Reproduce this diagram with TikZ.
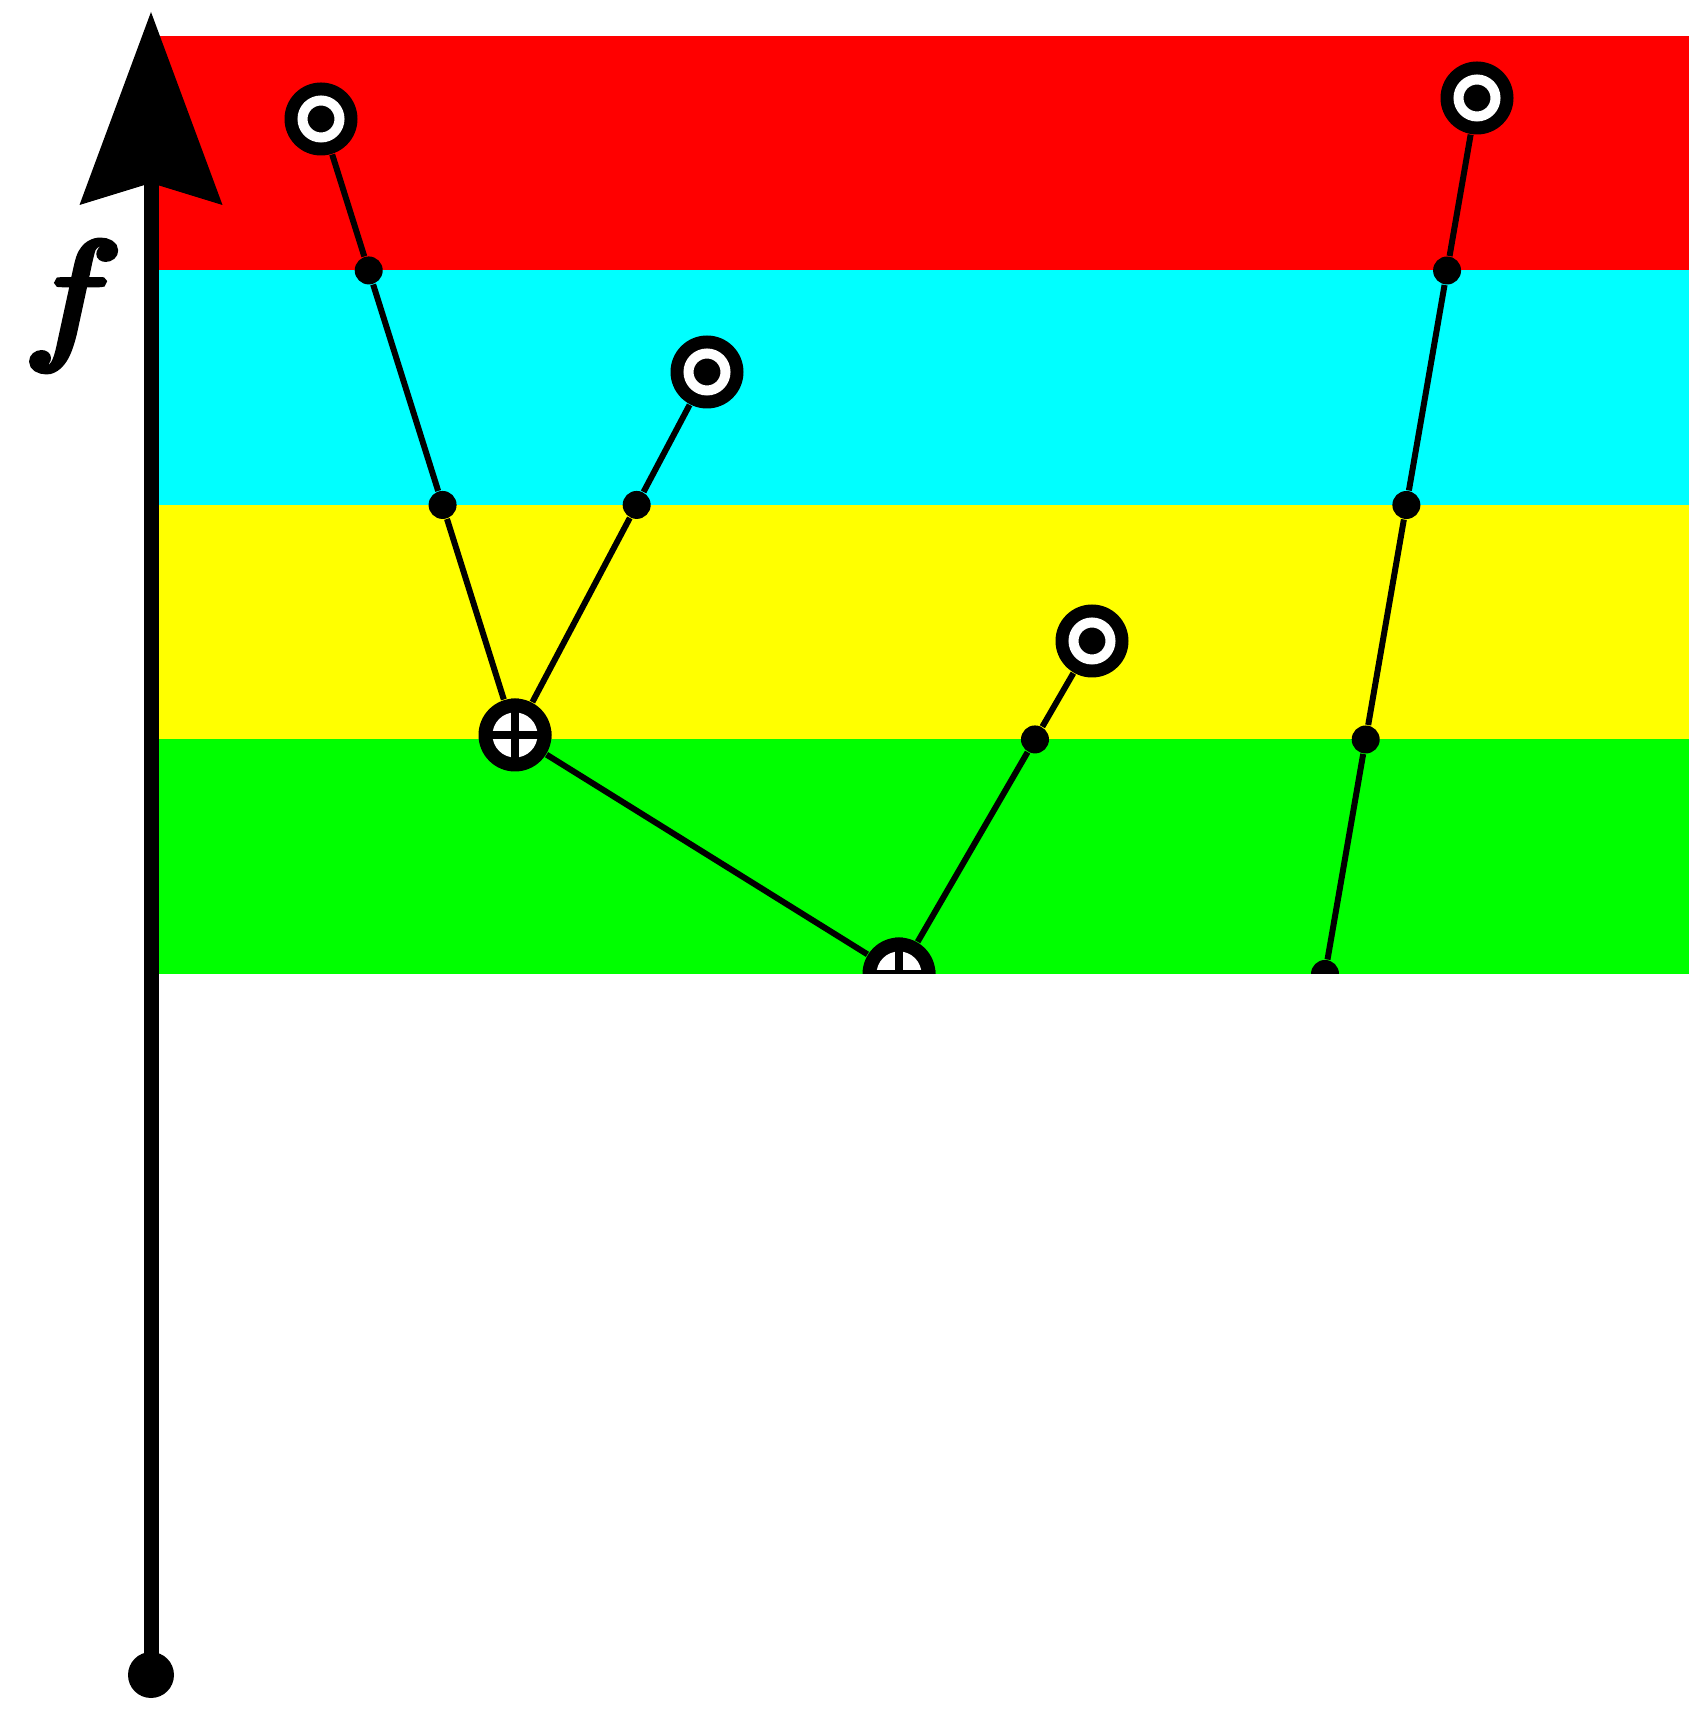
\documentclass[tikz,border=0pt]{standalone}
\usepackage{tikz}
\usetikzlibrary{arrows.meta,positioning,calc}
\usepackage{amsmath,xcolor,graphicx}
\definecolor{bandred}{RGB}{255,0,0}
\definecolor{bandcyan}{RGB}{0,255,255}
\definecolor{bandyellow}{RGB}{255,255,0}
\definecolor{bandgreen}{RGB}{0,255,0}
\newcommand{\heavyf}{\special{pdf:literal direct 2 Tr 0.4 w}$f$\special{pdf:literal direct 0 Tr}}

\begin{document}
\begin{tikzpicture}[
  leaf/.style={circle,fill=black,inner sep=0pt,minimum size=0.73cm,
               path picture={\draw[white,line width=0.1cm]
                 (path picture bounding box.center) circle (0.185cm);}},
  merge/.style={circle,fill=black,inner sep=0pt,minimum size=0.73cm,
               path picture={\fill[white] (path picture bounding box.center) circle (0.225cm);
                 \draw[black,line width=0.085cm]
                   (path picture bounding box.west) -- (path picture bounding box.east)
                   (path picture bounding box.south) -- (path picture bounding box.north);}},
  bdot/.style={circle,fill=black,inner sep=0pt,minimum size=0.28cm},
  link/.style={line width=0.06cm,black},
  faxis/.style={line width=0.15cm,
                -{Stealth[length=1.93cm,width=1.43cm,inset=0.22cm,line width=0pt]}}]
\useasboundingbox (0,0) rectangle (16.89,17.14);
\foreach \c [count=\i] in {bandred,bandcyan,bandyellow,bandgreen}
  \fill[\c] (1.51,{16.78-\i*2.345}) rectangle (16.89,{16.78-(\i-1)*2.345});
\begin{scope}
\clip (1.51,7.40) rectangle (16.89,16.78);
\node[leaf] (l1) at (3.21,15.95) {};
\node[leaf] (l2) at (7.07,13.42) {};
\node[leaf] (l3) at (10.92,10.73) {};
\node[leaf] (l4) at (14.77,16.16) {};
\node[merge] (m1) at (5.15,9.79) {};
\node[merge] (m2) at (8.99,7.40) {};
\coordinate (r0) at (13.25,7.40);
\node[bdot] (a1) at (intersection of l1--m1 and 0,14.435--1,14.435) {};
\node[bdot] (a2) at (intersection of l1--m1 and 0,12.09--1,12.09) {};
\node[bdot] (b1) at (intersection of l2--m1 and 0,12.09--1,12.09) {};
\node[bdot] (c1) at (intersection of l3--m2 and 0,9.745--1,9.745) {};
\node[bdot] (d1) at (intersection of l4--r0 and 0,14.435--1,14.435) {};
\node[bdot] (d2) at (intersection of l4--r0 and 0,12.09--1,12.09) {};
\node[bdot] (d3) at (intersection of l4--r0 and 0,9.745--1,9.745) {};
\node[bdot] (d4) at (r0) {};
\draw[link] (l1) -- (a1) -- (a2) -- (m1);
\draw[link] (l2) -- (b1) -- (m1);
\draw[link] (m1) -- (m2);
\draw[link] (l3) -- (c1) -- (m2);
\draw[link] (l4) -- (d1) -- (d2) -- (d3) -- (d4);
\end{scope}
\node[circle,fill=black,inner sep=0pt,minimum size=0.46cm] (o) at (1.51,0.39) {};
\coordinate (top) at (1.51,17.02);
\draw[faxis] (o.center) -- (top);
\node (flab) at (0.73,14.08) {\scalebox{4.7}[4.1]{\heavyf}};
\end{tikzpicture}
\end{document}
